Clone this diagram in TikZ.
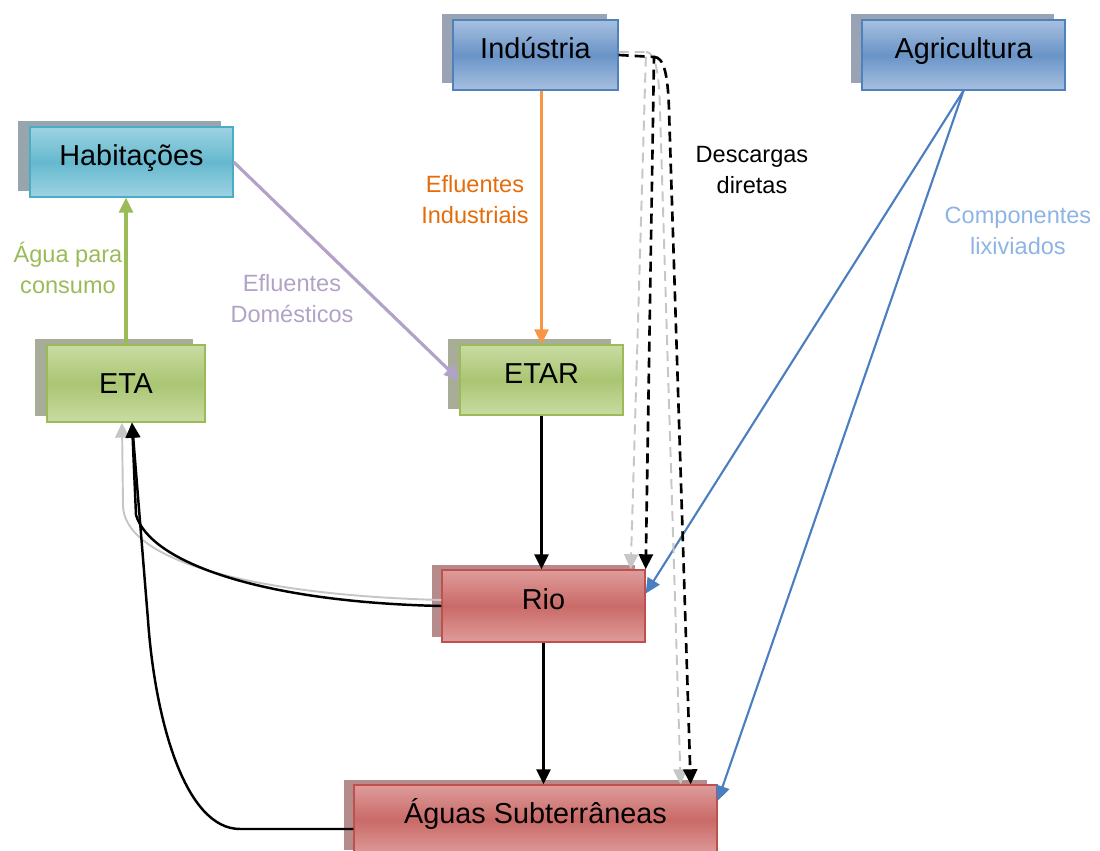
\documentclass[tikz,border=0pt]{standalone}
\usepackage{fontspec}
\setmainfont{Liberation Sans}
\usetikzlibrary{arrows.meta,shadows}

\definecolor{azulM}{HTML}{4F81BD}
\definecolor{azulC}{HTML}{A7C0E0}
\definecolor{azulS}{HTML}{99A3B4}
\definecolor{cianoM}{HTML}{4BACC6}
\definecolor{cianoC}{HTML}{9DD3E2}
\definecolor{cianoS}{HTML}{98A5AD}
\definecolor{verdeM}{HTML}{9BBB59}
\definecolor{verdeC}{HTML}{C9DBA3}
\definecolor{verdeS}{HTML}{A8AD9A}
\definecolor{vermM}{HTML}{C0504D}
\definecolor{vermC}{HTML}{DE9C9A}
\definecolor{vermS}{HTML}{B68B8B}
\definecolor{lilas}{HTML}{B3A2C7}
\definecolor{laranja}{HTML}{F79646}
\definecolor{laranjaT}{HTML}{E46C0A}
\definecolor{azulL}{HTML}{4A7EC0}
\definecolor{azulT}{HTML}{8EB4E3}

\begin{document}
\begin{tikzpicture}[x=0.02cm,y=-0.02cm,>={Triangle[length=0.3cm,width=0.28cm]}]
\tikzstyle{caixa}=[rectangle,minimum height=1.4cm,text height=0.45cm,text depth=0.3cm,font=\fontsize{16.4}{20}\selectfont]
\tikzstyle{azul}=[caixa,draw=azulM,line width=0.8pt,top color=azulC,bottom color=azulC,middle color=azulM!85!white,general shadow={shadow xshift=-0.22cm,shadow yshift=0.13cm,fill=azulS}]
\tikzstyle{ciano}=[caixa,draw=cianoM,line width=0.8pt,top color=cianoC,bottom color=cianoC,middle color=cianoM!85!white,general shadow={shadow xshift=-0.24cm,shadow yshift=0.12cm,fill=cianoS}]
\tikzstyle{verde}=[caixa,draw=verdeM,line width=0.8pt,top color=verdeC,bottom color=verdeC,middle color=verdeM!85!white,general shadow={shadow xshift=-0.24cm,shadow yshift=0.12cm,fill=verdeS}]
\tikzstyle{verm}=[caixa,draw=vermM,line width=0.8pt,top color=vermC,bottom color=vermC,middle color=vermM!85!white,general shadow={shadow xshift=-0.2cm,shadow yshift=0.1cm,fill=vermS}]
\tikzstyle{rotulo}=[align=center,font=\fontsize{13.4}{17.6}\selectfont]
\tikzstyle{seta}=[->,line width=1.4pt]
\tikzstyle{tracejado}=[->,line width=1.5pt,dash pattern=on 0.2cm off 0.12cm]
\tikzstyle{fantasma}=[->,gray!45,line width=1.1pt,dash pattern=on 0.2cm off 0.12cm]
\useasboundingbox (0,0) rectangle (1100,851);

\node[azul,minimum width=3.3cm](ind) at (535.5,55) {Indústria};
\node[azul,minimum width=4.06cm](agri) at (963.5,55) {Agricultura};
\node[ciano,minimum width=4.06cm](hab) at (131.5,162) {Habitações};
\node[verde,minimum width=3.16cm,minimum height=1.54cm,text depth=0.04cm](eta) at (126,383.5) {ETA};
\node[verde,minimum width=3.26cm](etar) at (541.5,380) {ETAR};
\node[verm,minimum width=4.06cm,minimum height=1.44cm](rio) at (543.5,606) {Rio};
\node[verm,minimum width=7.26cm](aguas) at (535.5,820) {Águas Subterrâneas};

\node[rotulo,text=verdeM](lagua) at (68,268) {Água para\\consumo};
\node[rotulo,text=lilas](ldom) at (292,299) {Efluentes\\Domésticos};
\node[rotulo,text=laranjaT](lind) at (475,200) {Efluentes\\Industriais};
\node[rotulo](ldesc) at (752,170) {Descargas\\diretas};
\node[rotulo,text=azulT](llix) at (1018,231) {Componentes\\lixiviados};

\draw[->,verdeM,line width=1.8pt] (eta.north) -- (eta.north |- hab.south);
\draw[->,lilas,line width=1.8pt] (hab.east) -- (etar.west);
\draw[->,laranja,line width=1.5pt] (etar.north |- ind.south) -- (etar.north);
\draw[seta] (etar.south) -- (etar.south |- rio.north);
\draw[seta] (rio.south) -- (rio.south |- aguas.north);
\draw[->,azulL,line width=1.2pt] (agri.south) -- (rio.7);
\draw[->,azulL,line width=1.2pt] (agri.south) -- (aguas.6);

\draw[->,gray!45,line width=1.1pt] ([yshift=0.12cm]rio.west) .. controls (250,595) and (123,560) .. (123,505) -- ([xshift=-0.08cm]eta.south);
\draw[seta] (rio.west) .. controls (260,602) and (150,562) .. (136,515) -- ([xshift=0.12cm]eta.south);
\draw[seta] ([yshift=-0.18cm]aguas.west) -- (240,829) .. controls (185,829) and (155,720) .. (148,620) -- ([xshift=0.12cm]eta.south);

\draw[fantasma] ([yshift=0.06cm]ind.east) -- (646,52) -- ([xshift=-0.3cm]rio.north east);
\draw[fantasma] (646,52) .. controls (655,52) and (659,70) .. (660,110) -- ([xshift=-0.74cm]aguas.north east);
\draw[tracejado] (ind.east) -- (654,57) -- (rio.north east);
\draw[tracejado] (654,57) .. controls (664,57) and (668,75) .. (669,110) -- ([xshift=-0.54cm]aguas.north east);
\end{tikzpicture}
\end{document}
